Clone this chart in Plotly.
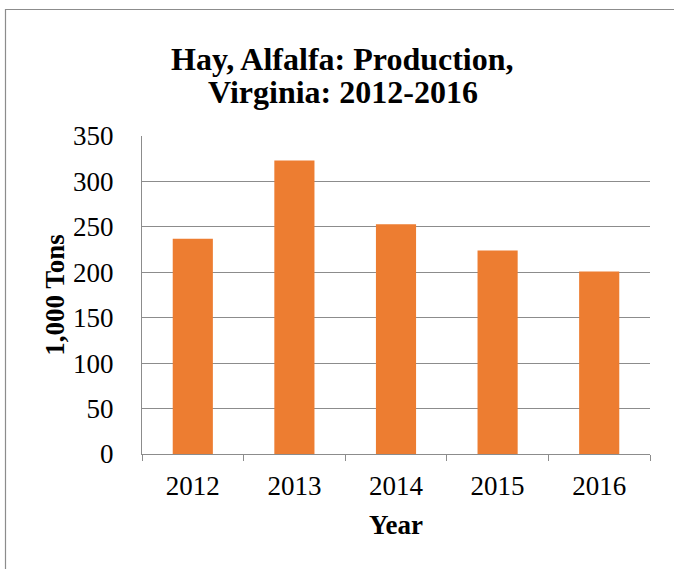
import plotly.graph_objects as go

years = ["2012", "2013", "2014", "2015", "2016"]
production = [237, 323, 253, 224, 201]
y_ticks = [0, 50, 100, 150, 200, 250, 300, 350]
title_lines = ["Hay, Alfalfa: Production,", "Virginia: 2012-2016"]

W, H = 674, 569
L, R, T, B = 142, 24, 136, 115
pw, ph = W - L - R, H - T - B

FONT = "Liberation Serif"
GRID = "#8c8c8c"


def px_x(px):
    return (px - L) / pw


def px_y(py):
    return (T + ph - py) / ph


fig = go.Figure(go.Bar(x=years, y=production, marker=dict(color="#ED7D31", line=dict(width=0)), width=0.395))

annotations = []
for text, cy in zip(title_lines, [59, 92]):
    annotations.append(dict(text="<b>" + text + "</b>", xref="paper", yref="paper",
                            x=px_x(342.5), y=px_y(cy), xanchor="center", yanchor="middle",
                            showarrow=False, font=dict(family=FONT, size=32, color="black")))

fig.update_layout(
    width=W, height=H,
    margin=dict(l=L, r=R, t=T, b=B, pad=0),
    paper_bgcolor="white", plot_bgcolor="white",
    font=dict(family=FONT, size=27, color="black"),
    showlegend=False,
    annotations=annotations,
    xaxis=dict(showgrid=False, showline=True, linecolor=GRID, linewidth=1,
               ticks="outside", tickson="boundaries", ticklen=6, tickcolor=GRID,
               ticklabelstandoff=8,
               tickfont=dict(family=FONT, size=27),
               title=dict(text="<b>Year</b>", font=dict(family=FONT, size=27), standoff=14)),
    yaxis=dict(range=[0, 350], tickvals=y_ticks, showgrid=True, gridcolor=GRID, gridwidth=1,
               showline=True, linecolor=GRID, linewidth=1, ticks="", ticklabelstandoff=22,
               tickfont=dict(family=FONT, size=27), zeroline=False,
               title=dict(text="<b>1,000 Tons</b>", font=dict(family=FONT, size=27), standoff=0)),
    shapes=[dict(type="rect", xref="paper", yref="paper",
                 x0=px_x(5.5), x1=px_x(W + 20),
                 y0=px_y(H + 20), y1=px_y(9.5),
                 line=dict(color="#8c8c8c", width=1.2), layer="below")],
)

fig.write_html("out.html", config={"displayModeBar": False},
               post_script="document.body.style.margin='0';document.body.style.padding='0';")
